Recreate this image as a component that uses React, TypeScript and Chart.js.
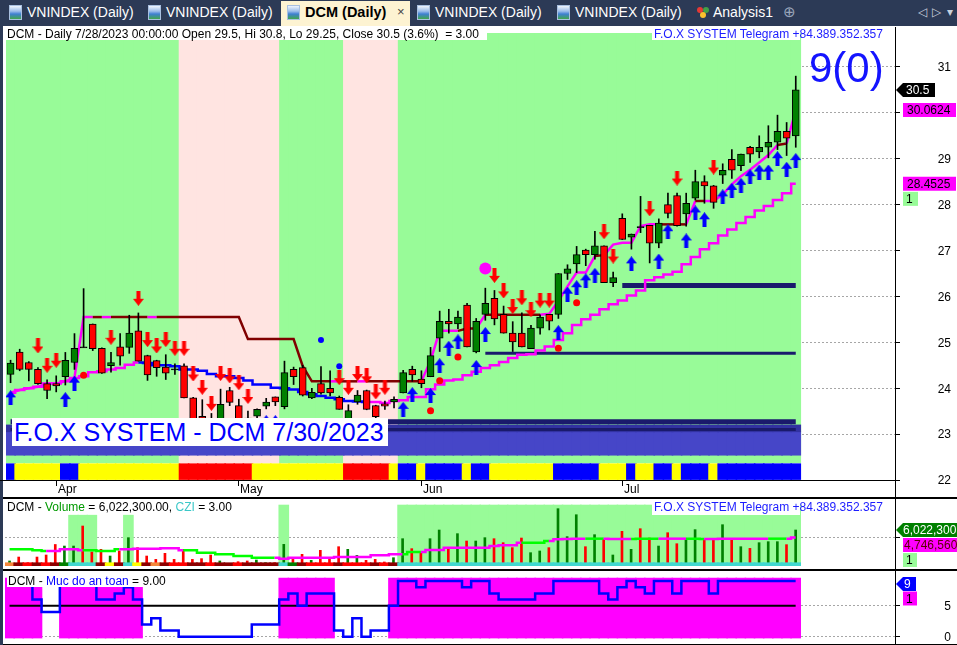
import React, { useEffect, useRef } from 'react';
import { Chart, registerables } from 'chart.js';

Chart.register(...registerables);

const FONT = '"Liberation Sans", Arial, Helvetica, sans-serif';
const MAGENTA = '#ff00ff';
const MAROON = '#800000';
const NAVY = '#1a1a6c';

// ---------------- data ----------------
const N = 87;
const barIndex = Array.from({ length: N }, (_, i) => i);

const opens = [24.30, 24.79, 24.56, 24.41, 24.10, 24.10, 24.25, 24.56, 24.89, 25.40,
  24.87, 24.49, 24.90, 24.89, 25.25, 24.71, 24.60, 24.46, 24.41, 24.49,
  23.79, 23.39, 23.30, 23.20, 23.95, 23.62, 23.35, 23.39, 23.61, 23.81,
  23.60, 24.41, 24.45, 23.79, 24.10, 24.00, 23.80, 23.25, 23.70, 23.95,
  23.62, 23.66, 23.70, 23.90, 24.41, 24.20, 24.25, 25.09, 25.46, 25.40,
  25.81, 24.79, 25.61, 25.96, 25.61, 25.20, 25.20, 24.86, 25.31, 25.61,
  25.61, 26.50, 26.71, 27.01, 26.91, 27.10, 26.30, 27.70, 27.29, 27.51,
  27.55, 27.16, 28.00, 28.20, 27.80, 28.14, 28.50, 28.41, 28.64, 28.99,
  28.85, 29.25, 29.15, 29.25, 29.36, 29.60, 29.50];
const highs = [24.61, 24.85, 24.58, 24.45, 24.18, 24.27, 24.78, 25.19, 26.17, 25.40,
  24.88, 24.78, 25.19, 25.59, 25.64, 24.72, 24.61, 24.73, 24.53, 24.53,
  23.80, 23.75, 23.45, 23.98, 24.02, 23.76, 23.50, 23.55, 23.78, 23.81,
  24.59, 24.46, 24.50, 24.00, 24.47, 24.38, 23.83, 23.64, 23.95, 23.96,
  23.63, 23.72, 23.81, 24.39, 24.48, 24.38, 24.89, 25.68, 25.72, 25.68,
  25.85, 25.52, 26.18, 26.13, 25.79, 25.45, 25.64, 25.37, 25.60, 25.61,
  26.50, 26.69, 27.09, 27.03, 27.42, 27.10, 26.53, 27.80, 27.36, 28.18,
  27.55, 27.69, 28.25, 28.25, 28.25, 28.75, 28.63, 28.42, 28.89, 29.20,
  29.10, 29.27, 29.50, 29.72, 29.95, 29.79, 30.80];
const lows = [24.12, 24.38, 24.16, 24.08, 23.77, 23.92, 24.07, 24.41, 24.89, 24.82,
  24.32, 24.35, 24.50, 24.76, 24.59, 24.17, 24.26, 24.19, 24.30, 23.79,
  23.05, 23.30, 22.95, 23.10, 23.62, 23.20, 23.05, 23.30, 23.55, 23.62,
  23.55, 24.08, 23.83, 23.77, 23.87, 23.83, 23.54, 23.15, 23.65, 23.53,
  23.30, 23.54, 23.57, 23.90, 24.15, 24.01, 24.25, 24.80, 25.20, 25.30,
  24.90, 24.77, 25.48, 25.38, 25.20, 24.80, 24.90, 24.86, 25.18, 25.27,
  25.52, 26.37, 26.52, 26.67, 26.81, 26.30, 26.21, 27.24, 27.03, 27.39,
  26.73, 27.06, 27.71, 27.53, 27.53, 28.10, 28.03, 27.92, 28.46, 28.57,
  28.74, 28.92, 29.02, 29.02, 29.20, 29.07, 29.25];
const closes = [24.55, 24.41, 24.41, 24.10, 23.95, 24.05, 24.61, 24.87, 24.89, 24.86,
  24.33, 24.56, 24.70, 25.20, 24.59, 24.29, 24.45, 24.33, 24.41, 23.79,
  23.15, 23.34, 23.05, 23.65, 23.69, 23.30, 23.15, 23.54, 23.70, 23.70,
  24.34, 24.25, 23.85, 23.91, 23.90, 23.90, 23.54, 23.51, 23.85, 23.54,
  23.38, 23.61, 23.76, 24.34, 24.29, 24.10, 24.71, 25.46, 25.40, 25.55,
  24.90, 25.46, 25.85, 25.51, 25.20, 25.01, 24.90, 25.31, 25.55, 25.46,
  26.50, 26.60, 26.91, 26.91, 27.10, 26.30, 26.41, 27.24, 27.36, 27.51,
  27.16, 27.60, 27.81, 27.54, 28.03, 28.50, 28.41, 28.05, 28.75, 28.75,
  29.10, 29.10, 29.25, 29.36, 29.60, 29.45, 30.50];

// fast trailing line (upper) and slow trailing line (lower)
const trailFast = [23.90, 23.96, 24.00, 24.03, 24.10, 24.10, 24.15, 24.23, 25.55, 25.55,
  25.55, 25.55, 25.55, 25.55, 25.55, 25.55, 25.55, 25.55, 25.55, 25.55,
  25.55, 25.55, 25.55, 25.55, 25.55, 25.55, 25.07, 25.07, 25.07, 25.07,
  25.07, 25.07, 24.48, 24.15, 24.15, 24.15, 24.15, 24.15, 24.15, 24.15,
  24.15, 24.15, 24.15, 24.15, 24.15, 24.15, 24.60, 25.25, 25.25, 25.25,
  25.30, 25.30, 25.60, 25.60, 25.60, 25.60, 25.60, 25.60, 25.60, 25.62,
  25.90, 26.22, 26.52, 26.52, 26.88, 26.90, 27.13, 27.17, 27.17, 27.53,
  27.57, 27.57, 27.57, 27.57, 27.57, 28.08, 28.08, 28.08, 28.22, 28.44,
  28.62, 28.76, 28.92, 29.08, 29.30, 29.33, 30.0624];
const trailSlow = [23.90, 23.96, 24.00, 24.03, 24.10, 24.10, 24.15, 24.22, 24.26, 24.35,
  24.37, 24.41, 24.44, 24.51, 24.56, 24.55, 24.50, 24.50, 24.48, 24.41,
  24.41, 24.38, 24.31, 24.26, 24.26, 24.22, 24.17, 24.08, 24.08, 24.01,
  24.00, 23.97, 23.92, 23.87, 23.83, 23.79, 23.76, 23.72, 23.71, 23.70,
  23.70, 23.68, 23.72, 23.74, 23.81, 23.81, 23.98, 24.08, 24.17, 24.19,
  24.28, 24.36, 24.44, 24.50, 24.57, 24.66, 24.73, 24.74, 24.82, 24.91,
  25.05, 25.20, 25.38, 25.50, 25.60, 25.72, 25.83, 25.91, 26.02, 26.13,
  26.35, 26.42, 26.48, 26.54, 26.70, 26.86, 27.03, 27.16, 27.33, 27.46,
  27.60, 27.73, 27.87, 27.97, 28.10, 28.25, 28.4525];

// colour runs: [code, number of bars]
const fastColorRuns: [string, number][] = [['M', 9], ['D', 1], ['M', 1], ['D', 4], ['M', 1], ['D', 19], ['M', 1], ['D', 2], ['M', 1], ['D', 6], ['M', 4], ['D', 2], ['M', 1], ['D', 6], ['M', 6], ['D', 1], ['M', 6], ['D', 3], ['M', 1], ['D', 1], ['M', 8], ['D', 1], ['M', 2]];
const slowColorRuns: [string, number][] = [['M', 14], ['B', 25], ['M', 48]];
const zoneRuns: [string, number][] = [['G', 19], ['P', 11], ['G', 7], ['P', 6], ['G', 44]];
const stateRuns: [string, number][] = [['B', 1], ['Y', 5], ['B', 2], ['Y', 11], ['R', 8], ['Y', 10], ['R', 5], ['Y', 1], ['B', 2], ['Y', 1], ['B', 4], ['Y', 1], ['B', 2], ['Y', 7], ['B', 5], ['Y', 3], ['B', 1], ['Y', 2], ['B', 2], ['Y', 1], ['B', 3], ['Y', 1], ['B', 9]];

// signals
const buyBars = [0, 6, 7, 28, 29, 43, 44, 46, 47, 48, 49, 51, 52, 60, 61, 62, 63, 64, 68, 71, 72, 74, 75, 76, 78, 79, 80, 81, 82, 83, 84, 85, 86];
const buyPrices = [23.79, 23.75, 24.11, 23.25, 23.25, 23.54, 23.86, 23.84, 24.49, 24.87, 25.01, 24.45, 25.17, 25.21, 26.05, 26.19, 26.34, 26.46, 26.71, 26.77, 27.41, 27.21, 27.82, 27.67, 28.17, 28.31, 28.42, 28.61, 28.71, 28.71, 29.00, 28.77, 28.96];
const sellBars = [3, 4, 5, 11, 14, 15, 16, 17, 18, 19, 20, 21, 22, 23, 24, 25, 26, 36, 37, 38, 39, 40, 41, 53, 54, 55, 56, 57, 58, 59, 65, 66, 70, 73, 77];
const sellPrices = [24.92, 24.50, 24.61, 25.11, 25.96, 25.06, 24.92, 25.06, 24.87, 24.87, 24.31, 24.02, 23.67, 24.32, 24.27, 24.12, 23.82, 24.23, 24.02, 24.32, 24.27, 23.92, 24.02, 26.46, 26.12, 25.78, 25.97, 25.71, 25.92, 25.92, 27.41, 26.88, 27.91, 28.58, 28.82];
const redDotBars = [8, 46, 47, 49, 60, 62];
const redDotPrices = [24.28, 23.51, 24.16, 24.68, 24.87, 25.86];
const blueDotBars = [34, 36];
const blueDotPrices = [25.05, 24.48];
const pinkDotBars = [52];
const pinkDotPrices = [26.61];

// horizontal levels
const levelValues = [24.76, 26.24];
const levelStartBars = [52, 67];
const supportLines = [23.27, 23.10];
const supportZone = [22.54, 23.05];
const supportZone2 = [23.05, 23.20];

// axis
const monthTickBars = [5, 25, 45, 67];
const monthLabels = ['Apr', 'May', 'Jun', 'Jul'];

// volume pane
const volumes = [840000, 1500000, 560000, 1500000, 1840000, 3600000, 3340000, 3340000, 6690000, 2340000,
  2790000, 1670000, 2510000, 4740000, 3070000, 1670000, 1110000, 2120000, 1110000, 2790000,
  1110000, 1230000, 1840000, 840000, 280000, 720000, 840000, 1000000, 560000, 560000,
  3620000, 1110000, 1950000, 950000, 2620000, 1110000, 3230000, 2790000, 1780000, 950000,
  1110000, 670000, 1390000, 4570000, 2900000, 2230000, 4570000, 6020000, 3070000, 5410000,
  4180000, 4180000, 4740000, 4570000, 3900000, 3070000, 4680000, 2230000, 2510000, 3070000,
  9590000, 4910000, 8580000, 3230000, 5240000, 4460000, 1840000, 5800000, 2790000, 6240000,
  4680000, 3340000, 5570000, 3730000, 4570000, 6080000, 4400000, 4460000, 6910000, 4570000,
  3230000, 2950000, 3900000, 4070000, 4070000, 3570000, 6022300];
const volumeMA = [2790000, 2790000, 2790000, 2620000, 2510000, 2510000, 2790000, 2790000, 2620000, 2620000,
  2510000, 2510000, 2790000, 2790000, 2900000, 2900000, 2900000, 2950000, 2950000, 2620000,
  2620000, 2230000, 2230000, 1950000, 1950000, 1670000, 1670000, 1390000, 1390000, 1390000,
  1230000, 1390000, 1390000, 1390000, 1390000, 1390000, 1500000, 1500000, 1500000, 1500000,
  1780000, 1780000, 1950000, 1950000, 2340000, 2340000, 2680000, 2680000, 3070000, 3070000,
  3070000, 3070000, 3070000, 3340000, 3460000, 3460000, 3900000, 3900000, 3900000, 4180000,
  4460000, 4520000, 4570000, 4570000, 4570000, 4570000, 4520000, 4520000, 4520000, 4570000,
  4570000, 4570000, 4570000, 4570000, 4570000, 4570000, 4520000, 4520000, 4570000, 4570000,
  4570000, 4570000, 4570000, 4570000, 4570000, 4570000, 4746560];
const volMaColorRuns: [string, number][] = [['G', 4], ['M', 4], ['G', 4], ['M', 7], ['G', 10], ['M', 14], ['G', 2], ['M', 11], ['G', 3], ['M', 4], ['G', 2], ['M', 3], ['G', 3], ['M', 3], ['G', 2], ['M', 7], ['G', 2], ['M', 2]];
const czi = 3.0;
const cziRuns: [string, number][] = [['O', 1], ['d', 1], ['r', 1], ['d', 1], ['r', 1], ['d', 1], ['g', 1], ['c', 3], ['d', 1], ['y', 1], ['d', 1], ['c', 1], ['y', 1], ['d', 1], ['O', 1], ['d', 1], ['r', 2], ['d', 2], ['r', 1], ['d', 2], ['r', 1], ['d', 4], ['c', 1], ['g', 1], ['d', 1], ['r', 3], ['d', 1], ['r', 3], ['d', 1], ['r', 1], ['d', 1], ['c', 44]];
const volZoneRuns: [number, number][] = [[0, 7], [1, 3], [0, 3], [1, 1], [0, 16], [2, 1], [0, 12], [2, 44]];
const volZoneLevels = [0, 8500000, 10200000];
const volumeGridTicks = [4750000];

// safety pane
const safety = [9, 9, 9, 6, 4, 4, 9, 9, 9, 9,
  6, 6, 7, 8, 6, 2, 3, 1, 1, 0,
  0, 0, 0, 0, 0, 0, 0, 2, 2, 2,
  6, 7, 5, 7, 7, 7, 1, 0, 3, 0,
  1, 1, 5, 9, 9, 8, 9, 9, 9, 9,
  8, 9, 9, 7, 6, 6, 6, 6, 7, 7,
  9, 9, 9, 9, 9, 7, 6, 8, 9, 8,
  7, 9, 9, 7, 9, 9, 9, 7, 9, 9,
  9, 9, 9, 9, 9, 9, 9];
const safetyThreshold = 5;
const safetyTicks = [0, 5];

// ---------------- helpers ----------------
function expand<T>(runs: [T, number][]): T[] {
  const out: T[] = [];
  runs.forEach(([c, n]) => { for (let k = 0; k < n; k++) out.push(c); });
  return out;
}

function makeArrow(up: boolean, color: string) {
  const c = document.createElement('canvas');
  c.width = 11; c.height = 15;
  const g = c.getContext('2d')!;
  g.fillStyle = color;
  g.beginPath();
  if (up) {
    g.moveTo(5.5, 0); g.lineTo(11, 7); g.lineTo(7.5, 7); g.lineTo(7.5, 15);
    g.lineTo(3.5, 15); g.lineTo(3.5, 7); g.lineTo(0, 7);
  } else {
    g.moveTo(3.5, 0); g.lineTo(7.5, 0); g.lineTo(7.5, 8); g.lineTo(11, 8);
    g.lineTo(5.5, 15); g.lineTo(0, 8); g.lineTo(3.5, 8);
  }
  g.closePath();
  g.fill();
  return c;
}

function box(ctx: CanvasRenderingContext2D, x0: number, x1: number, yc: number, bg: string, fg: string, text: string, tx: number, arrow: boolean) {
  const h = 14;
  ctx.fillStyle = bg;
  ctx.beginPath();
  if (arrow) {
    ctx.moveTo(x0, yc);
    ctx.lineTo(x0 + 7, yc - h / 2);
    ctx.lineTo(x1, yc - h / 2);
    ctx.lineTo(x1, yc + h / 2);
    ctx.lineTo(x0 + 7, yc + h / 2);
    ctx.closePath();
  } else {
    ctx.rect(x0, yc - h / 2, x1 - x0, h);
  }
  ctx.fill();
  ctx.fillStyle = fg;
  ctx.textAlign = 'left';
  ctx.textBaseline = 'middle';
  ctx.fillText(text, tx, yc + 1);
}

const xAxis = { type: 'linear', min: -0.5, max: 96.87, offset: false, display: false, grid: { display: false } };

function rightAxis(min: number, max: number, extra: any = {}) {
  return {
    type: 'linear', position: 'right', min, max,
    ticks: { display: false, ...(extra.ticks || {}) },
    grid: { color: '#a6a6a6', lineWidth: 1, drawTicks: true, tickLength: 5, tickColor: '#000', tickWidth: 1, tickBorderDash: [] },
    border: { display: false, dash: [2, 2] },
    afterFit(s: any) { s.width = 62; s.paddingTop = 0; s.paddingBottom = 0; s.paddingLeft = 0; s.paddingRight = 0; },
    afterBuildTicks: extra.afterBuildTicks,
  };
}

function baseOptions(padding: any, y: any) {
  return {
    responsive: false, animation: false, devicePixelRatio: 1, events: [],
    layout: { padding },
    plugins: { legend: { display: false }, tooltip: { enabled: false } },
    scales: { x: xAxis, y },
  };
}

const pts = (bars: number[], vals: number[]) => bars.map((b, k) => ({ x: b, y: vals[k] }));
const span = (lo: number, hi: number) => barIndex.map(i => ({ x: i, y: [lo, hi] }));

// ---------------- main price pane ----------------
function mainConfig(upArrow: HTMLCanvasElement, downArrow: HTMLCanvasElement): any {
  const zoneC = expand(zoneRuns).map(c => (c === 'G' ? '#98fb98' : '#ffe4e1'));
  const stateC = expand(stateRuns).map(c => (c === 'B' ? '#0000ff' : c === 'Y' ? '#ffff00' : '#ff0000'));
  const fastC = expand(fastColorRuns);
  const slowC = expand(slowColorRuns);
  const bodyC = barIndex.map(i => (closes[i] > opens[i] ? '#008000' : closes[i] < opens[i] ? '#ff0000' : '#000000'));
  const bodies = barIndex.map(i => {
    const lo = Math.min(opens[i], closes[i]);
    const hi = Math.max(opens[i], closes[i]);
    return { x: i, y: hi - lo < 0.02 ? [lo - 0.011, lo + 0.011] : [lo, hi] };
  });
  const bar = (data: any, color: any, order: number, extra: any = {}) => ({
    type: 'bar', data, backgroundColor: color, barThickness: 10, grouped: false, order, borderWidth: 0, ...extra,
  });
  const line = (data: any, color: any, width: number, order: number, extra: any = {}) => ({
    type: 'line', data, borderColor: color, borderWidth: width, pointRadius: 0, order, fill: false, ...extra,
  });
  const dots = (data: any, style: any, color: string, radius: number, order: number) => ({
    type: 'line', data, showLine: false, pointStyle: style, pointRadius: radius, pointBackgroundColor: color,
    pointBorderWidth: 0, pointBorderColor: color, order,
  });

  const plugin = {
    id: 'mainDeco',
    afterDraw(chart: any) {
      const { ctx, chartArea: a, scales: { x, y } } = chart;
      ctx.save();
      ctx.fillStyle = '#000';
      ctx.fillRect(0, Math.round(a.bottom), 895, 1);
      ctx.font = `12px ${FONT}`;
      ctx.textAlign = 'left';
      ctx.textBaseline = 'alphabetic';
      monthTickBars.forEach((b, k) => {
        const px = Math.round(x.getPixelForValue(b) - 0.5);
        ctx.fillStyle = '#000';
        ctx.fillRect(px, Math.round(a.bottom), 1, 6);
        ctx.fillText(monthLabels[k], px + 2, a.bottom + 13);
      });
      ctx.textAlign = 'right';
      ctx.textBaseline = 'middle';
      y.ticks.forEach((t: any) => ctx.fillText(String(t.value), 951, y.getPixelForValue(t.value) + 1));
      const last = N - 1;
      box(ctx, 896, 935, y.getPixelForValue(closes[last]), '#000', '#fff', String(closes[last]), 906, true);
      box(ctx, 903, 956, y.getPixelForValue(trailFast[last]), MAGENTA, '#000', trailFast[last].toFixed(4), 907, false);
      const ys = y.getPixelForValue(trailSlow[last]);
      box(ctx, 903, 956, ys, MAGENTA, '#000', trailSlow[last].toFixed(4), 907, false);
      box(ctx, 903, 918, ys + 15, '#98fb98', '#000', '1', 906, false);
      ctx.restore();
    },
  };

  return {
    type: 'bar',
    data: {
      datasets: [
        bar(span(22.37, 31.74), zoneC, 100),
        bar(span(22.01, 22.355), stateC, 99),
        bar(span(supportZone[0], supportZone[1]), '#4646c8', 98),
        bar(span(supportZone2[0], supportZone2[1]), '#3232a2', 97),
        line(barIndex.map(i => ({ x: i, y: supportLines[0] })), NAVY, 5, 96),
        line(barIndex.map(i => ({ x: i, y: supportLines[1] })), NAVY, 3, 95),
        line(barIndex.filter(i => i >= levelStartBars[0]).map(i => ({ x: i, y: levelValues[0] })), NAVY, 3, 94),
        line(barIndex.filter(i => i >= levelStartBars[1]).map(i => ({ x: i, y: levelValues[1] })), NAVY, 5, 93),
        line(barIndex.map(i => ({ x: i, y: trailSlow[i] })), MAGENTA, 2.5, 90, {
          stepped: 'middle',
          segment: { borderColor: (c: any) => (slowC[c.p0DataIndex] === 'B' ? '#0000ff' : MAGENTA) },
        }),
        line(barIndex.map(i => ({ x: i, y: trailFast[i] })), MAGENTA, 2.5, 89, {
          segment: { borderColor: (c: any) => (fastC[c.p0DataIndex] === 'D' ? MAROON : MAGENTA) },
        }),
        { type: 'bar', data: barIndex.map(i => ({ x: i, y: [lows[i], highs[i]] })), backgroundColor: '#000', barThickness: 1, grouped: false, order: 50, borderWidth: 0 },
        { type: 'bar', data: bodies, backgroundColor: bodyC, borderColor: '#000', borderWidth: 1, borderSkipped: false, barThickness: 7, grouped: false, order: 49 },
        dots(pts(redDotBars, redDotPrices), 'circle', '#ff0000', 3.5, 20),
        dots(pts(blueDotBars, blueDotPrices), 'circle', '#0000ff', 3, 19),
        dots(pts(pinkDotBars, pinkDotPrices), 'circle', MAGENTA, 6, 18),
        dots(pts(buyBars, buyPrices), upArrow, '#0000ff', 6, 5),
        dots(pts(sellBars, sellPrices), downArrow, '#ff0000', 6, 4),
      ],
    },
    options: baseOptions({ left: 5, right: 0, top: 1, bottom: 17 },
      rightAxis(22, 31.74, { ticks: { stepSize: 1, includeBounds: false } })),
    plugins: [plugin],
  };
}

// ---------------- volume pane ----------------
function volumeConfig(): any {
  const volC = barIndex.map(i => (closes[i] > opens[i] ? '#008000' : '#ff0000'));
  const maC = expand(volMaColorRuns);
  const cziMap: Record<string, string> = { O: '#f4883c', d: '#8b0000', r: '#ff0000', g: '#008000', c: '#40d8d0', y: '#ffff00' };
  const cziC = expand(cziRuns).map(c => cziMap[c]);
  const zones = expand(volZoneRuns);
  const zoneData = barIndex.filter(i => zones[i] > 0).map(i => ({ x: i, y: [0, volZoneLevels[zones[i]]] }));
  const plugin = {
    id: 'volDeco',
    afterDraw(chart: any) {
      const { ctx, scales: { y } } = chart;
      ctx.save();
      ctx.font = `12px ${FONT}`;
      const last = N - 1;
      const yv = y.getPixelForValue(volumes[last]);
      box(ctx, 896, 957, yv, '#008000', '#fff', volumes[last].toLocaleString('en-US'), 903, true);
      box(ctx, 903, 957, yv + 15, MAGENTA, '#5a0000', volumeMA[last].toLocaleString('en-US'), 904, false);
      box(ctx, 903, 917, yv + 30, '#98fb98', '#000', '1', 906, false);
      ctx.restore();
    },
  };
  return {
    type: 'bar',
    data: {
      datasets: [
        { type: 'bar', data: zoneData, backgroundColor: '#98fb98', barThickness: 10, grouped: false, order: 100, borderWidth: 0 },
        { type: 'bar', data: barIndex.map(i => ({ x: i, y: [0, volumes[i]] })), backgroundColor: volC, barThickness: 2, grouped: false, order: 50, borderWidth: 0 },
        {
          type: 'line', data: barIndex.map(i => ({ x: i, y: volumeMA[i] })), borderColor: '#00ff00', borderWidth: 2.5,
          pointRadius: 0, stepped: 'middle', order: 20,
          segment: { borderColor: (c: any) => (maC[c.p0DataIndex] === 'M' ? MAGENTA : '#00ff00') },
        },
        { type: 'bar', data: barIndex.map(i => ({ x: i, y: [0, 550000] })), backgroundColor: cziC, barThickness: 10, grouped: false, order: 10, borderWidth: 0 },
      ],
    },
    options: baseOptions({ left: 5, right: 0, top: 1, bottom: 3 },
      rightAxis(0, 11040000, { afterBuildTicks: (s: any) => { s.ticks = volumeGridTicks.map(v => ({ value: v })); } })),
    plugins: [plugin],
  };
}

// ---------------- safety pane ----------------
function safetyConfig(): any {
  const fillData = barIndex.filter(i => safety[i] >= safetyThreshold).map(i => ({ x: i, y: [-0.2, 9.47] }));
  const plugin = {
    id: 'safeDeco',
    afterDraw(chart: any) {
      const { ctx, scales: { y } } = chart;
      ctx.save();
      ctx.font = `12px ${FONT}`;
      ctx.fillStyle = '#000';
      ctx.textAlign = 'right';
      ctx.textBaseline = 'middle';
      y.ticks.forEach((t: any) => ctx.fillText(String(t.value), 951, y.getPixelForValue(t.value) + 1));
      const last = N - 1;
      const yv = y.getPixelForValue(safety[last]) + 3;
      box(ctx, 896, 916, yv, '#0000ff', '#fff', String(safety[last]), 904, true);
      box(ctx, 903, 917, yv + 14.5, MAGENTA, '#000', '1', 906, false);
      ctx.restore();
    },
  };
  return {
    type: 'bar',
    data: {
      datasets: [
        { type: 'bar', data: fillData, backgroundColor: MAGENTA, barThickness: 10, grouped: false, order: 100, borderWidth: 0 },
        { type: 'line', data: barIndex.map(i => ({ x: i, y: safetyThreshold })), borderColor: '#000', borderWidth: 2, pointRadius: 0, order: 50 },
        { type: 'line', data: barIndex.map(i => ({ x: i, y: safety[i] })), borderColor: '#0000ff', borderWidth: 2.5, pointRadius: 0, stepped: 'middle', order: 10 },
      ],
    },
    options: baseOptions({ left: 5, right: 0, top: 1, bottom: 2 },
      rightAxis(-1, 10.45, { afterBuildTicks: (s: any) => { s.ticks = safetyTicks.map(v => ({ value: v })); } })),
    plugins: [plugin],
  };
}

// ---------------- UI ----------------
const TAB_BG = '#2c3a56';

function TabIcon({ left }: { left: number }) {
  return (
    <div style={{
      position: 'absolute', left, top: 5, width: 13, height: 15, boxSizing: 'border-box',
      border: '1px solid #a9c0e0',
      background: 'linear-gradient(#eef4fc 0%, #9cbdea 40%, #3e7fd2 62%, #41a64c 100%)',
    }} />
  );
}

function Tab({ left, text }: { left: number; text: string }) {
  return (
    <>
      <TabIcon left={left} />
      <div style={{ position: 'absolute', left: left + 18, top: 4, fontSize: 14, color: '#fff', whiteSpace: 'nowrap', lineHeight: '17px' }}>{text}</div>
    </>
  );
}

export default function App() {
  const mainRef = useRef<HTMLCanvasElement>(null);
  const volRef = useRef<HTMLCanvasElement>(null);
  const safeRef = useRef<HTMLCanvasElement>(null);

  useEffect(() => {
    const up = makeArrow(true, '#0000ff');
    const down = makeArrow(false, '#ff0000');
    const charts = [
      new Chart(mainRef.current!, mainConfig(up, down)),
      new Chart(volRef.current!, volumeConfig()),
      new Chart(safeRef.current!, safetyConfig()),
    ];
    return () => charts.forEach(c => c.destroy());
  }, []);

  const abs = (s: any) => ({ position: 'absolute' as const, ...s });

  return (
    <div style={{ position: 'fixed', left: 0, top: 0, width: 957, height: 645, overflow: 'hidden', background: '#fff', fontFamily: FONT }}>
      {/* tab bar */}
      <div style={abs({ left: 0, top: 0, width: 957, height: 26, background: TAB_BG })}>
        <Tab left={9} text="VNINDEX (Daily)" />
        <Tab left={148} text="VNINDEX (Daily)" />
        <div style={abs({ left: 281, top: 1, width: 129, height: 25, background: '#fdf3d2' })} />
        <TabIcon left={287} />
        <div style={abs({ left: 305, top: 4, fontSize: 14.5, fontWeight: 700, color: '#000', lineHeight: '17px', whiteSpace: 'nowrap' })}>DCM (Daily)</div>
        <div style={abs({ left: 397, top: 4, fontSize: 13, color: '#444', lineHeight: '16px' })}>×</div>
        <Tab left={417} text="VNINDEX (Daily)" />
        <Tab left={557} text="VNINDEX (Daily)" />
        <div style={abs({ left: 697, top: 7, width: 6, height: 6, borderRadius: 3, background: '#e53935' })} />
        <div style={abs({ left: 703, top: 7, width: 6, height: 6, borderRadius: 3, background: '#43a047' })} />
        <div style={abs({ left: 700, top: 12, width: 6, height: 6, borderRadius: 3, background: '#fbc02d' })} />
        <div style={abs({ left: 713, top: 4, fontSize: 14, color: '#fff', lineHeight: '17px' })}>Analysis1</div>
        <div style={abs({ left: 783, top: 3, fontSize: 15, color: '#9aa6bb', lineHeight: '18px' })}>⊕</div>
        <div style={abs({ left: 918, top: 4, fontSize: 12, color: '#c8d0dc', lineHeight: '17px', letterSpacing: 1 })}>◁ ▷ ▾</div>
      </div>
      <div style={abs({ left: 0, top: 26, width: 3, height: 619, background: TAB_BG })} />

      <canvas ref={mainRef} width={957} height={470} style={abs({ left: 0, top: 27, width: 957, height: 470 })} />
      <canvas ref={volRef} width={957} height={70} style={abs({ left: 0, top: 499, width: 957, height: 70 })} />
      <canvas ref={safeRef} width={957} height={74} style={abs({ left: 0, top: 571, width: 957, height: 74 })} />

      {/* pane separators */}
      <div style={abs({ left: 3, top: 497, width: 954, height: 2, background: '#000' })} />
      <div style={abs({ left: 3, top: 569, width: 954, height: 2, background: '#000' })} />
      <div style={abs({ left: 3, top: 644, width: 954, height: 1, background: '#000' })} />
      <div style={abs({ left: 895, top: 27, width: 1, height: 618, background: '#000' })} />

      {/* main pane texts */}
      <div style={abs({ left: 5, top: 27, width: 482, height: 13, background: '#fff' })} />
      <div style={abs({ left: 7, top: 27, fontSize: 12, lineHeight: '14px', color: '#000', whiteSpace: 'pre' })}>
        {`DCM - Daily 7/28/2023 00:00:00 Open ${opens[N - 1]}, Hi ${highs[N - 1]}, Lo ${lows[N - 1]}, Close ${closes[N - 1]} (3.6%)  = ${czi.toFixed(2)}`}
      </div>
      <div style={abs({ left: 652, top: 27, width: 148, height: 13, background: '#fff' })} />
      <div style={abs({ left: 654, top: 27, fontSize: 12, lineHeight: '14px', color: '#1c1cff', whiteSpace: 'pre' })}>F.O.X SYSTEM Telegram +84.389.352.357</div>
      <div style={abs({ left: 809, top: 44, fontSize: 42, lineHeight: '48px', color: '#1414ff', whiteSpace: 'pre' })}>9(0)</div>
      <div style={abs({ left: 12, top: 418, width: 376, height: 28, background: '#fff' })} />
      <div style={abs({ left: 14, top: 418, fontSize: 25, lineHeight: '28px', color: '#0000ff', whiteSpace: 'pre' })}>F.O.X SYSTEM - DCM 7/30/2023</div>

      {/* volume pane texts */}
      <div style={abs({ left: 7, top: 500, fontSize: 12, lineHeight: '14px', color: '#000', whiteSpace: 'pre' })}>
        DCM - <span style={{ color: '#009a00' }}>Volume</span> = {volumes[N - 1].toLocaleString('en-US')}.00, <span style={{ color: '#3cc8c8' }}>CZI</span> = {czi.toFixed(2)}
      </div>
      <div style={abs({ left: 652, top: 501, width: 148, height: 14, background: '#fff' })} />
      <div style={abs({ left: 654, top: 500, fontSize: 12, lineHeight: '14px', color: '#1c1cff', whiteSpace: 'pre' })}>F.O.X SYSTEM Telegram +84.389.352.357</div>

      {/* safety pane texts */}
      <div style={abs({ left: 7, top: 574, width: 158, height: 13, background: '#fff' })} />
      <div style={abs({ left: 8, top: 574, fontSize: 12, lineHeight: '14px', color: '#000', whiteSpace: 'pre' })}>
        DCM - <span style={{ color: '#0000ff' }}>Muc do an toan</span> = {safety[N - 1].toFixed(2)}
      </div>
    </div>
  );
}
